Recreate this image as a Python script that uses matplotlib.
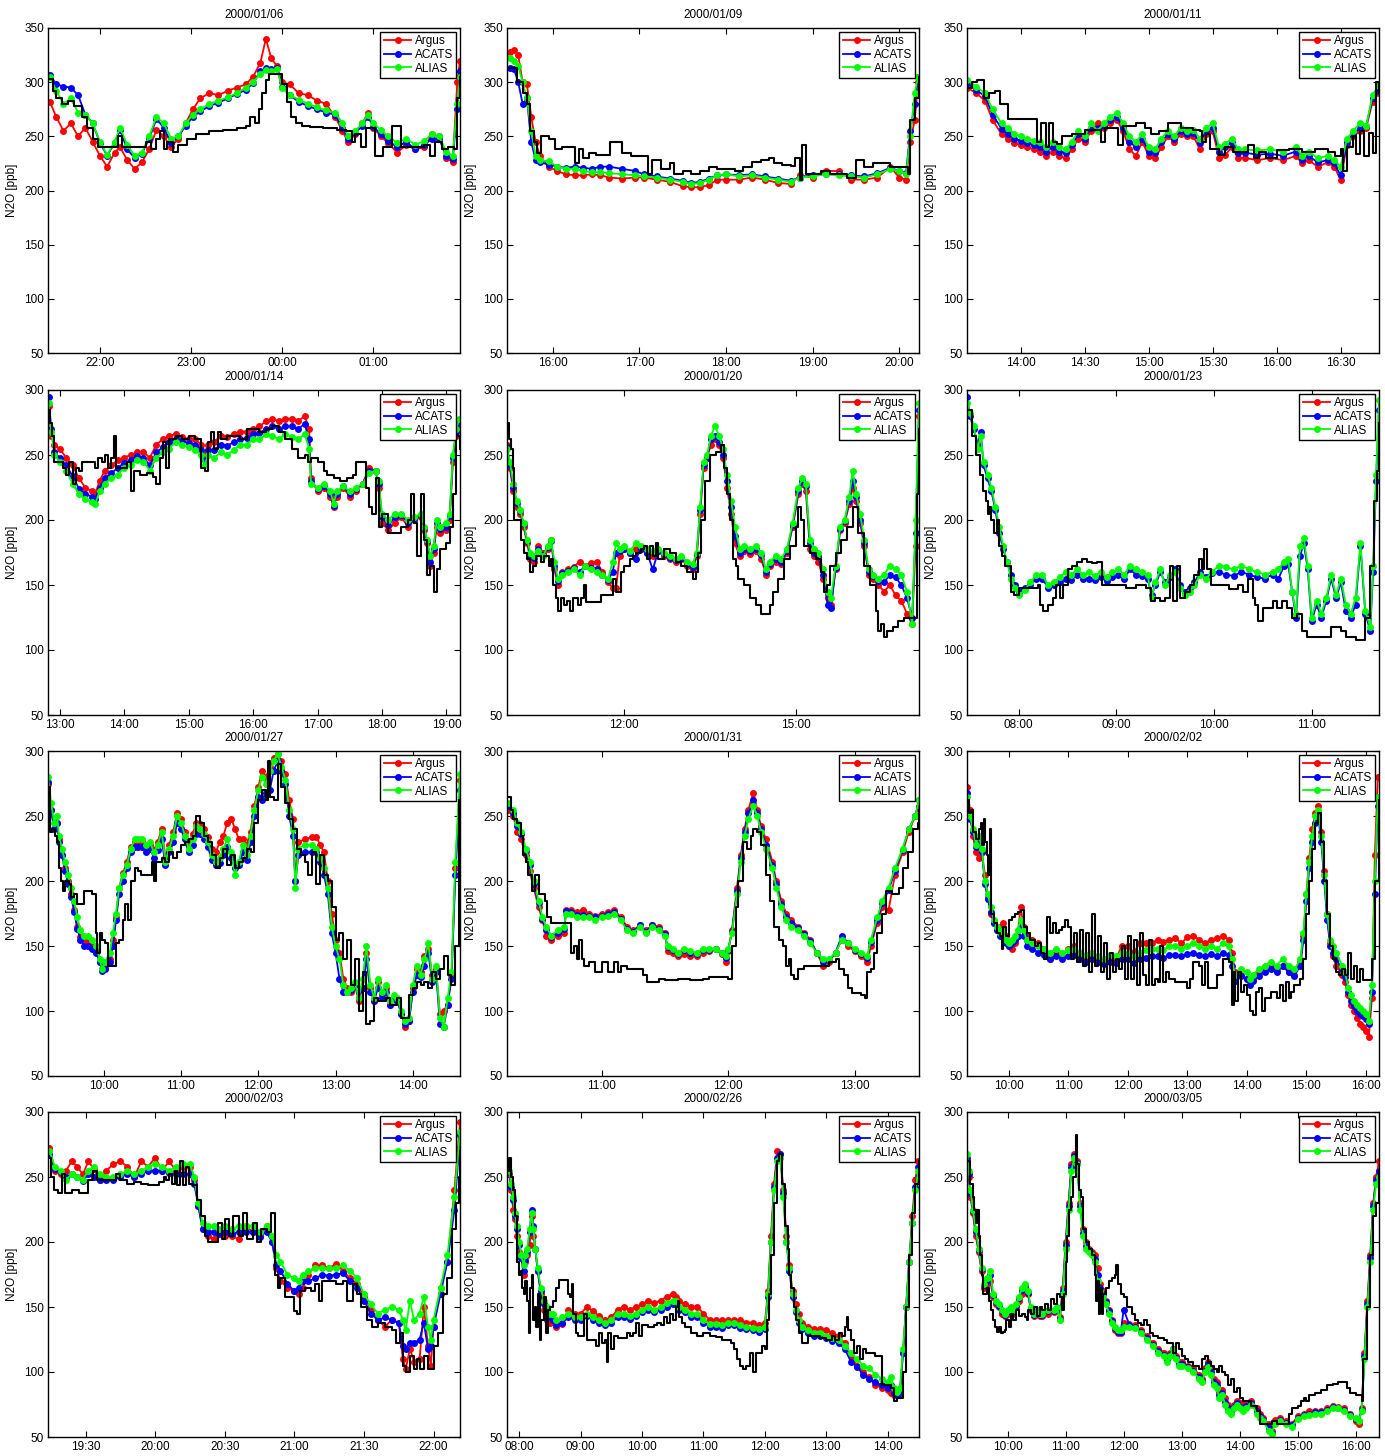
"""
N2O time series for twelve flights: Argus, ACATS and ALIAS plus the
unlabelled reference trace (black), one panel per flight day.
"""

import matplotlib
matplotlib.use("Agg")
import matplotlib.pyplot as plt
from matplotlib.ticker import FuncFormatter

# ---------------------------------------------------------------------------
# Data (time in decimal hours UT, values above 24 roll over to next day)
# ---------------------------------------------------------------------------

# 2000/01/06
T_0106 = [21.45, 21.52, 21.6, 21.68, 21.76, 21.84, 21.92, 22.0, 22.08, 22.16,
          22.22, 22.3, 22.38, 22.46, 22.54, 22.62, 22.7, 22.78, 22.86, 22.94,
          23.02, 23.1, 23.2, 23.3, 23.4, 23.5, 23.6, 23.68, 23.76, 23.82,
          23.88, 23.94, 24.0, 24.08, 24.18, 24.28, 24.38, 24.48, 24.58, 24.66,
          24.72, 24.8, 24.88, 24.94, 25.0, 25.08, 25.16, 25.26, 25.36, 25.46,
          25.56, 25.64, 25.72, 25.8, 25.87, 25.92, 25.95]
ARGUS_0106 = [282, 268, 255, 262, 250, 258, 245, 232, 222, 235,
              240, 228, 220, 226, 238, 256, 250, 240, 248, 262,
              275, 285, 290, 288, 292, 295, 298, 305, 318, 340,
              322, 315, 300, 298, 290, 288, 283, 280, 268, 255,
              245, 252, 262, 272, 258, 250, 244, 235, 242, 238,
              240, 252, 250, 230, 226, 300, 320]
ACATS_0106 = [307, 298, 296, 295, 288, 270, 262, 244, 232, 244,
              256, 238, 230, 234, 248, 266, 258, 244, 250, 260,
              268, 273, 278, 281, 285, 289, 293, 299, 310, 313,
              312, 313, 296, 288, 282, 278, 275, 272, 270, 258,
              248, 253, 260, 268, 259, 252, 246, 240, 245, 238,
              242, 248, 248, 232, 229, 275, 310]
ALIAS_0106 = [305, 292, 280, 285, 272, 270, 262, 245, 233, 245,
              258, 242, 232, 235, 250, 268, 262, 248, 250, 262,
              270, 275, 280, 283, 286, 290, 295, 300, 308, 311,
              310, 312, 295, 288, 284, 280, 277, 274, 272, 262,
              250, 255, 262, 270, 262, 256, 250, 244, 248, 242,
              246, 252, 250, 236, 232, 280, 305]
MODEL_T_0106 = [21.43, 21.48, 21.52, 21.58, 21.65, 21.72, 21.8, 21.86, 21.92, 21.98,
                22.1, 22.2, 22.24, 22.35, 22.5, 22.56, 22.62, 22.66, 22.7, 22.74,
                22.8, 22.86, 22.95, 23.05, 23.2, 23.35, 23.5, 23.6, 23.65, 23.7,
                23.74, 23.78, 23.82, 23.86, 23.94, 24.0, 24.05, 24.1, 24.15, 24.22,
                24.3, 24.45, 24.6, 24.7, 24.76, 24.8, 24.86, 24.92, 24.98, 25.02,
                25.1, 25.2, 25.3, 25.45, 25.55, 25.62, 25.68, 25.75, 25.82, 25.88,
                25.92, 25.95]
MODEL_0106 = [303, 292, 285, 280, 283, 278, 268, 258, 248, 240,
              240, 250, 240, 240, 245, 238, 248, 255, 238, 245,
              236, 242, 248, 252, 255, 256, 258, 260, 268, 262,
              275, 290, 302, 308, 308, 298, 282, 268, 262, 260,
              259, 258, 256, 255, 245, 252, 240, 258, 258, 232,
              240, 260, 240, 240, 242, 232, 245, 238, 240, 238,
              285, 305]
TICKS_0106 = [22, 23, 24, 25]

# 2000/01/09
T_0109 = [15.5, 15.55, 15.6, 15.65, 15.7, 15.75, 15.8, 15.85, 15.95, 16.05,
          16.15, 16.25, 16.35, 16.45, 16.55, 16.65, 16.8, 16.95, 17.05, 17.2,
          17.35, 17.5, 17.6, 17.7, 17.8, 17.9, 18.0, 18.15, 18.3, 18.45,
          18.6, 18.75, 18.85, 19.0, 19.15, 19.3, 19.45, 19.6, 19.75, 19.9,
          20.0, 20.08, 20.13, 20.18, 20.22]
ARGUS_0109 = [328, 330, 325, 300, 298, 268, 245, 232, 222, 218,
              215, 214, 214, 215, 214, 212, 211, 212, 212, 210,
              208, 204, 203, 203, 205, 210, 210, 210, 212, 210,
              207, 206, 214, 212, 218, 218, 210, 210, 212, 222,
              212, 210, 245, 265, 300]
ACATS_0109 = [313, 312, 300, 280, 285, 245, 228, 226, 224, 222,
              221, 222, 221, 220, 222, 222, 220, 218, 215, 213,
              211, 209, 207, 208, 211, 214, 215, 214, 215, 213,
              211, 209, 212, 214, 215, 215, 214, 213, 216, 221,
              218, 216, 255, 280, 305]
ALIAS_0109 = [322, 320, 315, 300, 285, 255, 232, 228, 227, 222,
              220, 220, 218, 217, 217, 216, 215, 214, 213, 212,
              210, 208, 206, 207, 210, 214, 215, 213, 214, 212,
              210, 208, 212, 213, 215, 214, 213, 212, 215, 220,
              218, 215, 250, 290, 305]
MODEL_T_0109 = [15.47, 15.58, 15.65, 15.7, 15.73, 15.78, 15.82, 15.86, 15.95, 16.03,
                16.1, 16.2, 16.25, 16.3, 16.35, 16.42, 16.5, 16.6, 16.66, 16.75,
                16.8, 16.9, 17.0, 17.1, 17.15, 17.25, 17.35, 17.4, 17.5, 17.6,
                17.7, 17.8, 17.9, 18.0, 18.1, 18.2, 18.3, 18.4, 18.5, 18.55,
                18.65, 18.75, 18.8, 18.85, 18.88, 18.92, 19.0, 19.1, 19.2, 19.3,
                19.4, 19.5, 19.55, 19.6, 19.7, 19.8, 19.9, 20.0, 20.07, 20.1,
                20.13, 20.18, 20.23]
MODEL_0109 = [313, 300, 290, 280, 255, 245, 235, 250, 248, 238,
              240, 240, 225, 238, 230, 235, 233, 233, 245, 245,
              235, 232, 232, 215, 228, 220, 225, 215, 218, 215,
              218, 222, 220, 220, 218, 222, 226, 228, 230, 225,
              224, 223, 230, 210, 242, 215, 215, 218, 215, 215,
              212, 228, 228, 222, 225, 225, 222, 222, 222, 215,
              265, 285, 305]
TICKS_0109 = [16, 17, 18, 19, 20]

# 2000/01/11
T_0111 = [13.58, 13.65, 13.72, 13.78, 13.85, 13.9, 13.95, 14.0, 14.05, 14.1,
          14.15, 14.2, 14.25, 14.3, 14.35, 14.4, 14.45, 14.5, 14.55, 14.6,
          14.65, 14.7, 14.75, 14.8, 14.85, 14.9, 14.95, 15.0, 15.05, 15.1,
          15.15, 15.2, 15.25, 15.3, 15.35, 15.4, 15.45, 15.5, 15.55, 15.6,
          15.65, 15.7, 15.75, 15.85, 15.95, 16.05, 16.15, 16.2, 16.25, 16.32,
          16.4, 16.45, 16.5, 16.55, 16.6, 16.65, 16.7, 16.75, 16.8]
ARGUS_0111 = [295, 290, 283, 265, 252, 248, 244, 242, 240, 238,
              236, 232, 236, 232, 230, 238, 248, 245, 255, 262,
              258, 262, 265, 255, 238, 232, 245, 232, 230, 240,
              250, 245, 252, 250, 250, 238, 252, 255, 230, 233,
              240, 230, 230, 228, 230, 228, 232, 225, 228, 222,
              226, 222, 210, 242, 250, 255, 258, 282, 290]
ACATS_0111 = [299, 293, 287, 270, 257, 252, 248, 246, 244, 242,
              240, 236, 240, 236, 235, 242, 252, 248, 258, 258,
              260, 265, 268, 258, 245, 240, 248, 236, 235, 245,
              252, 248, 255, 252, 253, 244, 255, 258, 236, 240,
              245, 235, 235, 233, 234, 232, 236, 228, 232, 226,
              228, 225, 214, 245, 252, 258, 260, 285, 292]
ALIAS_0111 = [302, 296, 290, 275, 262, 258, 252, 250, 248, 246,
              245, 240, 245, 240, 238, 245, 255, 250, 262, 255,
              262, 268, 272, 262, 250, 245, 252, 240, 238, 248,
              255, 250, 258, 255, 256, 248, 258, 262, 240, 243,
              248, 238, 238, 237, 238, 236, 240, 232, 236, 230,
              232, 228, 222, 248, 255, 262, 260, 288, 298]
MODEL_T_0111 = [13.58, 13.62, 13.66, 13.71, 13.75, 13.8, 13.84, 13.9, 14.1, 14.13,
                14.16, 14.2, 14.22, 14.25, 14.28, 14.32, 14.4, 14.5, 14.6, 14.63,
                14.66, 14.72, 14.76, 14.8, 14.9, 14.97, 15.02, 15.08, 15.15, 15.25,
                15.35, 15.4, 15.42, 15.45, 15.48, 15.55, 15.6, 15.66, 15.75, 15.78,
                15.82, 15.86, 15.92, 16.0, 16.1, 16.2, 16.3, 16.4, 16.46, 16.5,
                16.52, 16.55, 16.6, 16.62, 16.65, 16.68, 16.72, 16.75, 16.78, 16.8]
MODEL_0111 = [295, 300, 302, 285, 290, 292, 280, 266, 266, 245,
              262, 240, 262, 245, 243, 250, 252, 256, 256, 245,
              258, 258, 242, 260, 262, 258, 252, 255, 262, 258,
              256, 255, 245, 252, 238, 233, 240, 236, 236, 242,
              230, 236, 230, 237, 238, 236, 238, 236, 232, 238,
              218, 240, 250, 234, 255, 232, 253, 235, 300, 290]
TICKS_0111 = [14, 14.5, 15, 15.5, 16, 16.5]

# 2000/01/14
T_0114 = [12.83, 12.87, 12.92, 13.0, 13.1, 13.2, 13.3, 13.4, 13.5, 13.55,
          13.62, 13.7, 13.8, 13.9, 14.0, 14.1, 14.2, 14.3, 14.4, 14.5,
          14.6, 14.7, 14.8, 14.9, 15.0, 15.1, 15.2, 15.25, 15.3, 15.4,
          15.5, 15.6, 15.7, 15.8, 15.9, 16.0, 16.1, 16.2, 16.3, 16.4,
          16.5, 16.6, 16.7, 16.8, 16.87, 16.9, 17.0, 17.1, 17.2, 17.25,
          17.3, 17.4, 17.5, 17.6, 17.7, 17.8, 17.9, 17.95, 18.0, 18.1,
          18.2, 18.3, 18.4, 18.5, 18.6, 18.65, 18.7, 18.75, 18.8, 18.85,
          18.9, 19.0, 19.05, 19.1, 19.15, 19.2]
ARGUS_0114 = [288, 265, 258, 255, 248, 242, 232, 225, 222, 220,
              230, 238, 242, 246, 248, 250, 252, 252, 248, 258,
              262, 265, 266, 264, 262, 262, 258, 250, 258, 260,
              265, 264, 266, 268, 268, 270, 272, 276, 278, 276,
              278, 278, 276, 280, 270, 232, 222, 225, 218, 210,
              218, 225, 218, 222, 228, 240, 238, 225, 198, 192,
              198, 202, 195, 200, 202, 192, 182, 165, 175, 195,
              190, 192, 200, 245, 265, 270]
ACATS_0114 = [295, 270, 252, 248, 242, 234, 224, 220, 218, 216,
              225, 232, 236, 240, 244, 246, 249, 248, 242, 252,
              256, 260, 262, 261, 259, 258, 254, 246, 254, 254,
              258, 257, 260, 262, 263, 266, 267, 270, 272, 270,
              272, 272, 270, 274, 262, 230, 224, 226, 220, 211,
              220, 226, 220, 224, 228, 238, 238, 228, 202, 196,
              202, 204, 198, 201, 204, 194, 184, 168, 178, 198,
              193, 195, 203, 248, 268, 275]
ALIAS_0114 = [290, 268, 250, 245, 238, 228, 220, 216, 214, 212,
              222, 228, 232, 235, 240, 242, 246, 245, 238, 248,
              252, 255, 260, 258, 256, 254, 250, 242, 250, 248,
              252, 250, 254, 258, 258, 262, 262, 266, 265, 262,
              266, 264, 262, 266, 255, 228, 225, 228, 222, 212,
              222, 226, 222, 225, 228, 236, 238, 230, 205, 200,
              205, 205, 200, 202, 205, 195, 185, 172, 180, 200,
              195, 198, 205, 250, 270, 278]
MODEL_T_0114 = [12.82, 12.85, 12.88, 12.92, 13.0, 13.05, 13.1, 13.15, 13.2, 13.25,
                13.3, 13.35, 13.45, 13.55, 13.6, 13.65, 13.7, 13.75, 13.8, 13.85,
                13.88, 13.95, 14.05, 14.1, 14.15, 14.25, 14.35, 14.45, 14.5, 14.55,
                14.6, 14.65, 14.7, 14.8, 14.9, 15.0, 15.1, 15.2, 15.25, 15.3,
                15.35, 15.4, 15.45, 15.5, 15.6, 15.7, 15.8, 15.9, 16.0, 16.1,
                16.2, 16.3, 16.4, 16.5, 16.6, 16.7, 16.8, 16.85, 16.9, 17.0,
                17.1, 17.15, 17.25, 17.35, 17.45, 17.55, 17.6, 17.7, 17.75, 17.8,
                17.85, 17.9, 17.95, 18.0, 18.1, 18.2, 18.3, 18.4, 18.45, 18.5,
                18.55, 18.6, 18.65, 18.7, 18.75, 18.8, 18.85, 18.9, 19.0, 19.05,
                19.1, 19.15, 19.21]
MODEL_0114 = [285, 275, 265, 245, 245, 240, 235, 245, 228, 240,
              238, 245, 245, 240, 248, 245, 250, 240, 248, 265,
              240, 240, 245, 222, 238, 235, 236, 233, 228, 248,
              260, 240, 262, 265, 262, 265, 262, 240, 238, 260,
              268, 255, 268, 262, 265, 265, 262, 270, 270, 268,
              270, 272, 268, 262, 255, 248, 250, 245, 248, 245,
              238, 235, 232, 230, 232, 235, 245, 245, 225, 210,
              205, 232, 195, 205, 190, 190, 195, 200, 220, 198,
              172, 220, 185, 158, 165, 145, 162, 178, 182, 195,
              220, 265, 255]
TICKS_0114 = [13, 14, 15, 16, 17, 18, 19]

# 2000/01/20
T_0120 = [9.95, 10.0, 10.06, 10.12, 10.18, 10.24, 10.3, 10.36, 10.42, 10.5,
          10.58, 10.66, 10.72, 10.78, 10.84, 10.92, 11.02, 11.12, 11.22, 11.32,
          11.42, 11.52, 11.62, 11.72, 11.8, 11.86, 11.92, 12.0, 12.1, 12.2,
          12.3, 12.4, 12.5, 12.6, 12.7, 12.8, 12.9, 13.0, 13.1, 13.2,
          13.27, 13.33, 13.39, 13.45, 13.52, 13.59, 13.66, 13.73, 13.8, 13.87,
          13.94, 14.02, 14.1, 14.2, 14.3, 14.4, 14.48, 14.55, 14.65, 14.75,
          14.85, 14.95, 15.05, 15.12, 15.18, 15.25, 15.32, 15.4, 15.48, 15.56,
          15.62, 15.7, 15.78, 15.86, 15.94, 16.0, 16.06, 16.13, 16.2, 16.28,
          16.36, 16.45, 16.55, 16.65, 16.75, 16.85, 16.95, 17.04, 17.1, 17.16]
ARGUS_0120 = [258, 240, 222, 210, 205, 195, 182, 170, 168, 180,
              175, 178, 185, 162, 150, 160, 162, 164, 168, 165,
              167, 168, 160, 152, 148, 148, 172, 178, 175, 178,
              178, 175, 172, 176, 172, 170, 168, 170, 165, 162,
              172, 205, 240, 248, 258, 262, 258, 248, 225, 205,
              182, 172, 176, 174, 176, 170, 158, 165, 168, 166,
              175, 195, 220, 228, 222, 178, 172, 168, 155, 140,
              135, 162, 192, 198, 212, 225, 215, 198, 180, 158,
              155, 150, 145, 150, 142, 138, 128, 120, 180, 280]
ACATS_0120 = [256, 242, 225, 213, 207, 197, 184, 173, 171, 178,
              173, 179, 184, 165, 153, 159, 161, 163, 160, 165,
              163, 162, 158, 154, 160, 175, 176, 178, 175, 170,
              178, 175, 162, 176, 174, 171, 169, 171, 166, 164,
              174, 208, 242, 248, 262, 265, 260, 250, 230, 210,
              188, 175, 178, 176, 178, 173, 160, 166, 170, 168,
              176, 196, 222, 230, 226, 182, 175, 172, 158, 135,
              132, 163, 193, 199, 215, 230, 218, 200, 182, 160,
              157, 153, 152, 158, 156, 150, 140, 125, 190, 285]
ALIAS_0120 = [255, 245, 228, 215, 208, 198, 185, 175, 172, 176,
              172, 180, 185, 168, 155, 158, 160, 162, 158, 165,
              162, 160, 158, 155, 168, 182, 178, 180, 176, 182,
              180, 178, 176, 178, 175, 172, 170, 172, 168, 166,
              175, 210, 245, 250, 265, 272, 265, 255, 235, 215,
              195, 178, 180, 178, 180, 175, 162, 168, 172, 170,
              178, 198, 225, 232, 228, 185, 178, 175, 162, 145,
              140, 165, 195, 200, 218, 238, 220, 205, 185, 162,
              158, 155, 158, 165, 162, 158, 145, 120, 200, 290]
MODEL_T_0120 = [9.95, 9.98, 10.02, 10.05, 10.08, 10.14, 10.2, 10.25, 10.3, 10.35,
                10.4, 10.45, 10.55, 10.6, 10.68, 10.72, 10.76, 10.8, 10.85, 10.9,
                10.95, 11.0, 11.05, 11.1, 11.2, 11.25, 11.3, 11.33, 11.45, 11.6,
                11.75, 11.8, 11.85, 11.95, 12.0, 12.1, 12.15, 12.2, 12.3, 12.35,
                12.4, 12.45, 12.5, 12.55, 12.6, 12.7, 12.8, 12.9, 13.0, 13.1,
                13.2, 13.25, 13.3, 13.35, 13.42, 13.5, 13.6, 13.7, 13.75, 13.8,
                13.85, 13.9, 13.95, 14.0, 14.1, 14.2, 14.3, 14.4, 14.5, 14.55,
                14.6, 14.7, 14.8, 14.9, 15.0, 15.05, 15.1, 15.15, 15.25, 15.35,
                15.45, 15.5, 15.55, 15.6, 15.7, 15.8, 15.9, 16.0, 16.1, 16.2,
                16.3, 16.4, 16.45, 16.5, 16.55, 16.6, 16.7, 16.8, 16.9, 17.08,
                17.12, 17.16]
MODEL_0120 = [275, 262, 255, 240, 200, 200, 185, 175, 170, 160,
              165, 172, 168, 172, 165, 170, 150, 140, 130, 140,
              135, 138, 130, 140, 135, 140, 150, 137, 137, 142,
              142, 155, 145, 160, 165, 170, 172, 175, 178, 180,
              170, 180, 172, 182, 170, 178, 175, 168, 165, 160,
              155, 160, 175, 200, 230, 250, 252, 258, 240, 220,
              200, 170, 165, 155, 150, 140, 135, 128, 128, 135,
              145, 155, 170, 180, 195, 210, 200, 180, 175, 170,
              160, 145, 150, 165, 175, 185, 195, 210, 190, 165,
              150, 130, 115, 120, 110, 115, 118, 122, 125, 125,
              220, 270]
TICKS_0120 = [12, 15]

# 2000/01/23 (no Argus data on this flight)
T_0123 = [7.47, 7.5, 7.54, 7.58, 7.61, 7.64, 7.68, 7.72, 7.76, 7.8,
          7.84, 7.88, 7.92, 7.96, 8.0, 8.06, 8.12, 8.18, 8.24, 8.3,
          8.36, 8.42, 8.48, 8.54, 8.6, 8.66, 8.72, 8.78, 8.84, 8.9,
          8.96, 9.02, 9.08, 9.14, 9.2, 9.26, 9.32, 9.36, 9.4, 9.45,
          9.5, 9.55, 9.6, 9.65, 9.7, 9.75, 9.8, 9.86, 9.92, 9.98,
          10.05, 10.12, 10.2, 10.28, 10.36, 10.44, 10.52, 10.6, 10.66, 10.72,
          10.76, 10.8, 10.84, 10.88, 10.92, 10.96, 11.0, 11.05, 11.1, 11.15,
          11.2, 11.25, 11.3, 11.35, 11.4, 11.45, 11.5, 11.55, 11.6, 11.63,
          11.66, 11.69]
ARGUS_0123 = []
ACATS_0123 = [295, 280, 270, 258, 268, 242, 232, 222, 208, 190,
              178, 168, 158, 150, 145, 148, 150, 155, 155, 148,
              150, 152, 155, 154, 158, 155, 155, 154, 156, 153,
              156, 158, 155, 162, 158, 157, 155, 142, 150, 160,
              152, 156, 162, 150, 145, 148, 152, 160, 156, 159,
              160, 158, 157, 160, 158, 156, 155, 158, 155, 165,
              166, 145, 125, 172, 182, 162, 122, 135, 125, 138,
              155, 140, 152, 130, 125, 135, 180, 128, 115, 160,
              230, 285]
ALIAS_0123 = [290, 282, 272, 255, 265, 245, 235, 225, 210, 195,
              180, 168, 155, 148, 142, 146, 152, 158, 158, 150,
              152, 156, 160, 158, 162, 158, 160, 157, 160, 156,
              160, 162, 158, 165, 162, 160, 158, 140, 152, 162,
              150, 158, 160, 148, 142, 145, 150, 158, 155, 160,
              165, 164, 162, 165, 162, 160, 158, 160, 162, 168,
              170, 145, 128, 180, 186, 165, 125, 138, 128, 140,
              158, 142, 155, 135, 128, 140, 182, 130, 118, 165,
              235, 292]
MODEL_T_0123 = [7.47, 7.52, 7.56, 7.6, 7.63, 7.66, 7.68, 7.7, 7.72, 7.75,
                7.78, 7.8, 7.83, 7.86, 7.9, 7.92, 7.95, 8.0, 8.1, 8.15,
                8.2, 8.22, 8.25, 8.3, 8.35, 8.38, 8.42, 8.45, 8.5, 8.55,
                8.6, 8.65, 8.7, 8.75, 8.8, 8.85, 8.9, 9.0, 9.1, 9.2,
                9.3, 9.35, 9.4, 9.45, 9.5, 9.55, 9.58, 9.62, 9.65, 9.7,
                9.75, 9.8, 9.85, 9.88, 9.9, 9.93, 9.97, 10.05, 10.15, 10.25,
                10.3, 10.35, 10.4, 10.42, 10.45, 10.5, 10.55, 10.6, 10.65, 10.7,
                10.75, 10.8, 10.85, 10.9, 10.95, 11.05, 11.15, 11.2, 11.3, 11.35,
                11.45, 11.5, 11.55, 11.6, 11.64, 11.67, 11.69]
MODEL_0123 = [285, 265, 250, 235, 222, 215, 205, 210, 200, 190,
              200, 180, 172, 165, 165, 145, 142, 148, 148, 148,
              150, 135, 130, 135, 140, 150, 140, 150, 162, 165,
              168, 170, 168, 167, 168, 150, 150, 150, 148, 150,
              148, 138, 140, 138, 140, 165, 138, 165, 140, 145,
              150, 158, 170, 162, 178, 162, 150, 150, 147, 150,
              145, 155, 140, 135, 122, 132, 132, 138, 132, 138,
              132, 125, 128, 115, 110, 110, 110, 118, 115, 110,
              108, 108, 125, 165, 215, 238, 275]
TICKS_0123 = [8, 9, 10, 11]

# 2000/01/27
T_0127 = [9.28, 9.32, 9.36, 9.4, 9.42, 9.46, 9.5, 9.54, 9.58, 9.62,
          9.66, 9.7, 9.75, 9.8, 9.85, 9.9, 9.95, 9.98, 10.02, 10.08,
          10.12, 10.16, 10.2, 10.25, 10.3, 10.35, 10.4, 10.45, 10.5, 10.55,
          10.6, 10.65, 10.7, 10.75, 10.8, 10.85, 10.9, 10.95, 11.0, 11.05,
          11.1, 11.15, 11.2, 11.25, 11.3, 11.35, 11.4, 11.45, 11.5, 11.55,
          11.6, 11.65, 11.7, 11.75, 11.8, 11.85, 11.9, 11.95, 12.0, 12.05,
          12.1, 12.15, 12.2, 12.25, 12.3, 12.35, 12.4, 12.45, 12.48, 12.52,
          12.6, 12.7, 12.75, 12.8, 12.85, 12.9, 12.95, 13.0, 13.05, 13.1,
          13.15, 13.2, 13.25, 13.3, 13.35, 13.4, 13.45, 13.5, 13.55, 13.6,
          13.65, 13.7, 13.75, 13.8, 13.85, 13.9, 13.95, 14.0, 14.05, 14.1,
          14.15, 14.2, 14.25, 14.3, 14.35, 14.4, 14.45, 14.5, 14.55, 14.61]
ARGUS_0127 = [275, 255, 240, 245, 232, 220, 210, 200, 190, 178,
              165, 157, 155, 154, 150, 148, 138, 132, 133, 140,
              155, 172, 195, 206, 215, 226, 230, 230, 230, 226,
              228, 224, 230, 240, 218, 228, 238, 252, 248, 238,
              228, 236, 245, 244, 240, 234, 225, 222, 230, 235,
              245, 248, 240, 232, 232, 228, 238, 258, 272, 285,
              280, 288, 295, 298, 292, 282, 262, 248, 200, 230,
              232, 234, 234, 228, 222, 200, 175, 155, 145, 125,
              118, 115, 120, 108, 118, 145, 118, 108, 122, 112,
              118, 105, 110, 108, 98, 88, 92, 118, 132, 130,
              142, 148, 128, 132, 98, 100, 105, 128, 210, 278]
ACATS_0127 = [276, 255, 240, 245, 230, 220, 208, 198, 188, 176,
              163, 155, 150, 150, 148, 145, 138, 131, 132, 138,
              150, 170, 190, 200, 210, 222, 226, 226, 226, 222,
              225, 218, 224, 232, 212, 222, 230, 245, 240, 232,
              222, 228, 236, 236, 232, 226, 216, 212, 214, 220,
              226, 218, 210, 212, 222, 216, 230, 250, 265, 262,
              268, 270, 285, 292, 285, 275, 250, 235, 200, 220,
              222, 222, 222, 215, 205, 190, 160, 145, 125, 115,
              115, 116, 120, 110, 118, 140, 115, 108, 118, 110,
              115, 105, 110, 108, 98, 90, 92, 115, 128, 126,
              135, 145, 122, 130, 90, 88, 105, 125, 205, 270]
ALIAS_0127 = [280, 260, 245, 250, 235, 225, 215, 205, 195, 185,
              172, 162, 158, 158, 155, 150, 140, 132, 138, 145,
              160, 175, 195, 205, 212, 225, 232, 232, 232, 228,
              230, 222, 228, 238, 215, 225, 235, 250, 245, 235,
              225, 232, 242, 240, 236, 230, 220, 215, 218, 225,
              232, 222, 205, 215, 228, 220, 235, 255, 270, 280,
              275, 285, 292, 298, 288, 278, 255, 240, 195, 225,
              228, 228, 225, 218, 210, 195, 165, 150, 140, 120,
              115, 118, 122, 110, 125, 150, 120, 110, 125, 115,
              120, 108, 112, 110, 100, 92, 95, 120, 135, 128,
              140, 152, 125, 135, 95, 88, 110, 130, 215, 282]
MODEL_T_0127 = [9.28, 9.3, 9.33, 9.37, 9.4, 9.42, 9.45, 9.47, 9.5, 9.55,
                9.58, 9.62, 9.65, 9.72, 9.75, 9.85, 9.9, 9.92, 9.95, 9.98,
                10.02, 10.05, 10.12, 10.16, 10.2, 10.25, 10.28, 10.32, 10.35, 10.4,
                10.45, 10.48, 10.6, 10.62, 10.65, 10.68, 10.75, 10.8, 10.85, 10.9,
                10.95, 11.0, 11.05, 11.1, 11.15, 11.2, 11.25, 11.3, 11.35, 11.4,
                11.45, 11.5, 11.55, 11.6, 11.65, 11.7, 11.75, 11.8, 11.85, 11.9,
                11.95, 12.0, 12.05, 12.1, 12.12, 12.15, 12.2, 12.25, 12.3, 12.35,
                12.4, 12.45, 12.5, 12.55, 12.6, 12.65, 12.7, 12.75, 12.8, 12.85,
                12.9, 12.95, 13.0, 13.05, 13.1, 13.15, 13.2, 13.25, 13.3, 13.35,
                13.4, 13.45, 13.5, 13.55, 13.6, 13.65, 13.7, 13.8, 13.85, 13.9,
                13.95, 14.0, 14.05, 14.1, 14.15, 14.2, 14.25, 14.3, 14.35, 14.4,
                14.45, 14.5, 14.55, 14.6]
MODEL_0127 = [272, 238, 240, 235, 230, 210, 200, 192, 200, 198,
              188, 190, 182, 182, 192, 190, 160, 145, 160, 155,
              152, 135, 135, 152, 155, 170, 182, 170, 200, 210,
              208, 205, 205, 215, 200, 215, 218, 215, 222, 218,
              222, 228, 230, 232, 235, 250, 245, 235, 230, 220,
              210, 218, 225, 212, 220, 210, 215, 218, 225, 222,
              245, 262, 270, 262, 292, 265, 262, 290, 272, 260,
              248, 240, 225, 220, 215, 205, 222, 198, 220, 205,
              200, 180, 155, 160, 140, 155, 120, 140, 100, 130,
              90, 92, 110, 108, 108, 110, 105, 110, 95, 95,
              112, 118, 122, 120, 122, 118, 130, 125, 132, 142,
              128, 120, 150, 262]
TICKS_0127 = [10, 11, 12, 13, 14]

# 2000/01/31
T_0131 = [10.26, 10.3, 10.33, 10.36, 10.4, 10.43, 10.46, 10.5, 10.53, 10.56,
          10.6, 10.65, 10.7, 10.72, 10.76, 10.8, 10.85, 10.9, 10.95, 11.0,
          11.05, 11.1, 11.15, 11.2, 11.25, 11.3, 11.35, 11.4, 11.45, 11.5,
          11.52, 11.56, 11.6, 11.65, 11.7, 11.75, 11.8, 11.85, 11.9, 11.95,
          11.98, 12.0, 12.03, 12.07, 12.1, 12.13, 12.16, 12.2, 12.23, 12.26,
          12.3, 12.35, 12.38, 12.42, 12.46, 12.5, 12.55, 12.6, 12.65, 12.7,
          12.75, 12.8, 12.85, 12.9, 12.95, 13.0, 13.05, 13.1, 13.13, 13.18,
          13.22, 13.27, 13.32, 13.38, 13.43, 13.48, 13.51]
ARGUS_0131 = [255, 250, 238, 232, 220, 208, 195, 180, 170, 158,
              155, 158, 160, 178, 178, 176, 178, 175, 173, 175,
              176, 178, 172, 165, 162, 166, 162, 166, 165, 160,
              146, 145, 142, 144, 142, 142, 145, 146, 148, 144,
              138, 146, 162, 195, 220, 240, 255, 268, 255, 242,
              232, 215, 200, 185, 175, 170, 165, 160, 155, 145,
              135, 138, 145, 155, 150, 146, 142, 138, 150, 168,
              180, 178, 205, 222, 238, 250, 258]
ACATS_0131 = [258, 252, 242, 236, 223, 212, 198, 183, 171, 162,
              157, 160, 163, 177, 176, 174, 174, 173, 172, 173,
              175, 176, 171, 163, 161, 166, 161, 166, 163, 159,
              149, 147, 144, 147, 145, 144, 147, 147, 148, 145,
              141, 147, 161, 192, 218, 238, 252, 262, 252, 240,
              228, 212, 198, 182, 172, 168, 164, 159, 154, 145,
              138, 139, 145, 158, 152, 147, 144, 141, 153, 170,
              183, 193, 208, 224, 240, 250, 262]
ALIAS_0131 = [260, 255, 245, 238, 225, 215, 200, 185, 172, 165,
              158, 162, 165, 175, 175, 172, 172, 172, 170, 172,
              173, 175, 170, 162, 160, 165, 160, 165, 162, 158,
              150, 148, 145, 148, 146, 145, 148, 148, 148, 145,
              142, 148, 160, 190, 215, 235, 248, 258, 250, 238,
              225, 210, 195, 180, 170, 165, 162, 158, 152, 145,
              140, 140, 145, 155, 152, 148, 145, 142, 155, 172,
              185, 195, 210, 225, 240, 250, 262]
MODEL_T_0131 = [10.25, 10.28, 10.3, 10.33, 10.36, 10.38, 10.4, 10.42, 10.45, 10.47,
                10.5, 10.55, 10.57, 10.6, 10.65, 10.7, 10.74, 10.76, 10.78, 10.8,
                10.82, 10.84, 10.86, 10.9, 10.95, 11.0, 11.05, 11.1, 11.13, 11.15,
                11.2, 11.3, 11.33, 11.36, 11.4, 11.45, 11.5, 11.6, 11.7, 11.8,
                11.85, 11.9, 11.95, 12.0, 12.03, 12.06, 12.08, 12.12, 12.15, 12.18,
                12.2, 12.23, 12.26, 12.3, 12.33, 12.36, 12.4, 12.43, 12.46, 12.48,
                12.5, 12.52, 12.55, 12.6, 12.7, 12.78, 12.8, 12.85, 12.88, 12.92,
                12.95, 12.98, 13.05, 13.08, 13.1, 13.13, 13.15, 13.18, 13.22, 13.25,
                13.3, 13.35, 13.38, 13.42, 13.46, 13.5, 13.51]
MODEL_0131 = [265, 255, 248, 245, 235, 220, 215, 205, 192, 205,
              190, 185, 172, 168, 168, 168, 168, 145, 150, 140,
              155, 140, 135, 138, 130, 138, 130, 138, 130, 135,
              132, 132, 128, 122, 122, 125, 124, 125, 124, 125,
              126, 126, 126, 125, 150, 180, 200, 230, 225, 235,
              240, 238, 228, 205, 185, 165, 155, 150, 135, 140,
              128, 125, 132, 135, 135, 135, 138, 140, 132, 128,
              118, 114, 112, 110, 130, 132, 145, 160, 175, 192,
              190, 195, 210, 222, 240, 245, 255]
TICKS_0131 = [11, 12, 13]

# 2000/02/02
T_0202 = [9.3, 9.35, 9.4, 9.45, 9.5, 9.55, 9.6, 9.65, 9.7, 9.75,
          9.8, 9.85, 9.9, 9.95, 10.0, 10.05, 10.1, 10.15, 10.2, 10.25,
          10.3, 10.4, 10.5, 10.6, 10.7, 10.8, 10.9, 11.0, 11.1, 11.2,
          11.3, 11.4, 11.5, 11.6, 11.7, 11.8, 11.9, 12.0, 12.1, 12.2,
          12.3, 12.4, 12.5, 12.6, 12.7, 12.8, 12.9, 13.0, 13.1, 13.2,
          13.3, 13.4, 13.5, 13.6, 13.7, 13.75, 13.8, 13.9, 14.0, 14.05,
          14.1, 14.2, 14.3, 14.4, 14.5, 14.6, 14.7, 14.8, 14.9, 14.95,
          15.0, 15.05, 15.1, 15.15, 15.2, 15.25, 15.3, 15.35, 15.4, 15.45,
          15.5, 15.6, 15.65, 15.7, 15.75, 15.8, 15.85, 15.9, 15.95, 16.0,
          16.05, 16.1, 16.15, 16.2]
ARGUS_0202 = [272, 255, 235, 222, 218, 222, 205, 188, 175, 168,
              162, 165, 168, 158, 150, 148, 152, 158, 180, 165,
              158, 155, 152, 148, 140, 145, 142, 148, 150, 142,
              140, 142, 140, 138, 142, 140, 150, 150, 145, 152,
              152, 152, 155, 153, 155, 156, 152, 157, 158, 155,
              152, 155, 156, 158, 155, 145, 130, 128, 125, 122,
              125, 130, 132, 135, 132, 135, 130, 128, 138, 158,
              190, 218, 240, 252, 258, 238, 208, 175, 152, 142,
              135, 128, 122, 112, 105, 100, 95, 90, 88, 85,
              80, 110, 220, 280]
ACATS_0202 = [268, 248, 238, 226, 230, 222, 198, 186, 176, 168,
              162, 158, 160, 152, 150, 152, 155, 158, 165, 158,
              150, 148, 145, 143, 140, 142, 140, 142, 143, 140,
              138, 140, 138, 136, 138, 137, 140, 140, 137, 140,
              141, 142, 142, 141, 143, 143, 142, 144, 145, 143,
              142, 144, 142, 145, 143, 135, 123, 127, 125, 120,
              123, 127, 130, 132, 130, 135, 130, 127, 135, 155,
              185, 210, 230, 245, 250, 230, 200, 170, 150, 145,
              140, 132, 126, 115, 108, 104, 100, 98, 96, 94,
              90, 115, 190, 258]
ALIAS_0202 = [265, 250, 240, 228, 235, 225, 200, 190, 180, 170,
              165, 160, 162, 155, 152, 155, 158, 162, 170, 162,
              155, 152, 150, 148, 145, 148, 145, 147, 148, 145,
              143, 145, 142, 140, 143, 142, 145, 145, 142, 145,
              147, 148, 148, 147, 150, 150, 148, 150, 152, 150,
              148, 150, 148, 152, 150, 140, 128, 132, 130, 125,
              128, 132, 135, 138, 135, 140, 135, 132, 140, 160,
              190, 215, 235, 250, 255, 235, 205, 175, 155, 150,
              145, 135, 130, 118, 112, 108, 105, 102, 100, 98,
              92, 120, 200, 265]
MODEL_T_0202 = [9.3, 9.33, 9.36, 9.4, 9.45, 9.5, 9.53, 9.56, 9.58, 9.6,
                9.63, 9.66, 9.68, 9.7, 9.75, 9.8, 9.85, 9.88, 9.9, 9.95,
                10.0, 10.05, 10.1, 10.15, 10.2, 10.25, 10.3, 10.35, 10.4, 10.45,
                10.5, 10.55, 10.6, 10.65, 10.7, 10.75, 10.8, 10.85, 10.9, 10.95,
                11.0, 11.05, 11.1, 11.15, 11.2, 11.25, 11.3, 11.35, 11.4, 11.45,
                11.5, 11.55, 11.6, 11.65, 11.7, 11.75, 11.8, 11.85, 11.9, 11.95,
                12.0, 12.05, 12.1, 12.15, 12.2, 12.25, 12.3, 12.35, 12.4, 12.45,
                12.5, 12.55, 12.6, 12.65, 12.7, 12.8, 12.9, 13.0, 13.05, 13.1,
                13.2, 13.25, 13.3, 13.35, 13.45, 13.5, 13.6, 13.7, 13.75, 13.78,
                13.8, 13.85, 13.9, 13.95, 14.0, 14.05, 14.1, 14.15, 14.2, 14.25,
                14.3, 14.4, 14.5, 14.55, 14.6, 14.65, 14.7, 14.75, 14.8, 14.9,
                14.95, 15.0, 15.05, 15.1, 15.15, 15.2, 15.25, 15.3, 15.35, 15.4,
                15.45, 15.5, 15.55, 15.6, 15.65, 15.7, 15.75, 15.8, 15.85, 15.9,
                15.95, 16.0, 16.05, 16.1, 16.15, 16.22]
MODEL_0202 = [262, 252, 255, 238, 232, 240, 245, 228, 248, 230,
              220, 205, 240, 175, 168, 160, 158, 148, 165, 158,
              170, 172, 175, 176, 178, 165, 160, 155, 155, 150,
              152, 145, 140, 172, 160, 168, 160, 162, 165, 170,
              165, 140, 160, 138, 162, 135, 160, 130, 175, 135,
              158, 130, 152, 125, 145, 130, 140, 132, 150, 125,
              158, 125, 155, 120, 160, 128, 120, 155, 120, 125,
              122, 150, 122, 130, 125, 122, 122, 118, 125, 138,
              135, 120, 138, 118, 118, 128, 140, 138, 105, 130,
              108, 130, 115, 120, 112, 100, 97, 115, 118, 100,
              110, 115, 110, 120, 108, 122, 110, 115, 120, 125,
              140, 175, 200, 225, 245, 252, 230, 200, 175, 150,
              140, 130, 128, 132, 128, 145, 125, 135, 122, 132,
              124, 124, 124, 140, 200, 262]
TICKS_0202 = [10, 11, 12, 13, 14, 15, 16]

# 2000/02/03
T_0203 = [19.24, 19.28, 19.32, 19.36, 19.4, 19.44, 19.48, 19.52, 19.56, 19.6,
          19.65, 19.7, 19.75, 19.8, 19.85, 19.9, 19.95, 20.0, 20.05, 20.1,
          20.15, 20.2, 20.25, 20.28, 20.31, 20.34, 20.38, 20.42, 20.46, 20.5,
          20.55, 20.6, 20.65, 20.7, 20.75, 20.8, 20.84, 20.87, 20.9, 20.95,
          21.0, 21.03, 21.06, 21.1, 21.15, 21.2, 21.25, 21.3, 21.35, 21.4,
          21.45, 21.5, 21.55, 21.6, 21.65, 21.7, 21.75, 21.78, 21.8, 21.83,
          21.86, 21.9, 21.93, 21.96, 21.98, 22.0, 22.05, 22.1, 22.15, 22.19]
ARGUS_0203 = [272, 255, 252, 255, 262, 258, 252, 262, 256, 248,
              255, 260, 262, 258, 250, 262, 258, 265, 255, 262,
              255, 258, 258, 248, 228, 210, 205, 202, 208, 205,
              205, 202, 212, 208, 205, 212, 200, 180, 170, 165,
              162, 160, 165, 175, 182, 182, 180, 183, 178, 172,
              168, 158, 148, 140, 135, 140, 138, 110, 102, 118,
              108, 110, 150, 120, 105, 135, 165, 185, 240, 292]
ACATS_0203 = [268, 256, 254, 250, 252, 250, 247, 252, 250, 248,
              248, 248, 250, 252, 250, 252, 255, 255, 255, 253,
              252, 252, 252, 245, 228, 210, 208, 208, 206, 208,
              206, 208, 208, 208, 204, 208, 200, 182, 178, 168,
              162, 165, 170, 170, 172, 175, 174, 175, 176, 170,
              165, 155, 145, 140, 142, 140, 138, 120, 118, 122,
              122, 125, 138, 118, 120, 135, 160, 185, 225, 282]
ALIAS_0203 = [270, 258, 255, 248, 252, 250, 248, 255, 258, 252,
              250, 250, 252, 255, 252, 255, 258, 260, 258, 255,
              258, 260, 260, 250, 230, 215, 212, 212, 210, 212,
              210, 212, 212, 212, 208, 212, 205, 190, 185, 175,
              172, 170, 175, 178, 180, 180, 180, 180, 182, 178,
              172, 160, 152, 145, 148, 150, 148, 140, 132, 155,
              140, 145, 158, 135, 125, 140, 165, 190, 235, 285]
MODEL_T_0203 = [19.23, 19.25, 19.27, 19.3, 19.33, 19.35, 19.4, 19.45, 19.5, 19.52,
                19.55, 19.58, 19.65, 19.7, 19.72, 19.75, 19.8, 19.85, 19.9, 19.95,
                20.0, 20.03, 20.06, 20.08, 20.1, 20.12, 20.14, 20.16, 20.18, 20.2,
                20.22, 20.24, 20.27, 20.3, 20.33, 20.36, 20.38, 20.42, 20.45, 20.48,
                20.5, 20.53, 20.56, 20.6, 20.63, 20.66, 20.7, 20.73, 20.76, 20.8,
                20.83, 20.86, 20.88, 20.9, 20.93, 20.96, 21.0, 21.02, 21.04, 21.08,
                21.12, 21.15, 21.18, 21.2, 21.25, 21.3, 21.35, 21.38, 21.42, 21.45,
                21.48, 21.52, 21.56, 21.6, 21.65, 21.7, 21.73, 21.76, 21.78, 21.8,
                21.83, 21.86, 21.88, 21.9, 21.93, 21.96, 21.98, 22.0, 22.03, 22.07,
                22.1, 22.13, 22.16, 22.18, 22.19]
MODEL_0203 = [265, 250, 240, 238, 252, 238, 240, 238, 238, 248,
              255, 248, 248, 248, 252, 248, 245, 246, 245, 244,
              244, 246, 250, 248, 252, 245, 255, 244, 262, 244,
              258, 245, 244, 232, 220, 205, 200, 200, 215, 202,
              218, 205, 220, 205, 222, 202, 215, 200, 210, 208,
              222, 175, 165, 172, 158, 158, 147, 145, 162, 165,
              162, 168, 155, 170, 170, 168, 170, 155, 168, 160,
              150, 140, 135, 138, 135, 132, 122, 130, 105, 100,
              112, 102, 110, 102, 112, 102, 102, 120, 130, 160,
              172, 210, 230, 250, 270]
TICKS_0203 = [19.5, 20, 20.5, 21, 21.5, 22]

# 2000/02/26
T_0226 = [7.81, 7.84, 7.87, 7.9, 7.93, 7.96, 8.0, 8.03, 8.07, 8.1,
          8.13, 8.17, 8.2, 8.23, 8.26, 8.3, 8.35, 8.4, 8.45, 8.5,
          8.55, 8.6, 8.7, 8.8, 8.9, 9.0, 9.1, 9.2, 9.3, 9.4,
          9.5, 9.6, 9.7, 9.8, 9.9, 10.0, 10.1, 10.2, 10.3, 10.4,
          10.5, 10.55, 10.6, 10.7, 10.8, 10.9, 11.0, 11.1, 11.2, 11.3,
          11.4, 11.5, 11.6, 11.7, 11.8, 11.9, 12.0, 12.05, 12.1, 12.15,
          12.2, 12.25, 12.3, 12.35, 12.4, 12.45, 12.5, 12.55, 12.6, 12.7,
          12.8, 12.9, 13.0, 13.1, 13.2, 13.3, 13.4, 13.5, 13.6, 13.7,
          13.8, 13.9, 14.0, 14.05, 14.1, 14.15, 14.2, 14.25, 14.3, 14.35,
          14.4, 14.45, 14.5]
ARGUS_0226 = [255, 252, 240, 225, 218, 205, 192, 188, 175, 185,
              190, 198, 220, 205, 195, 178, 160, 148, 140, 138,
              140, 135, 137, 148, 145, 145, 150, 147, 143, 140,
              142, 148, 150, 148, 150, 152, 155, 153, 155, 158,
              160, 158, 155, 152, 150, 150, 145, 140, 140, 140,
              140, 140, 140, 138, 138, 136, 138, 162, 205, 245,
              270, 268, 240, 205, 182, 162, 152, 145, 138, 135,
              133, 133, 132, 130, 128, 122, 112, 105, 100, 96,
              90, 88, 86, 84, 82, 86, 85, 115, 150, 185,
              220, 248, 262]
ACATS_0226 = [262, 254, 242, 232, 220, 210, 198, 188, 178, 186,
              192, 208, 225, 212, 195, 178, 162, 152, 148, 142,
              140, 136, 138, 142, 140, 140, 143, 140, 138, 136,
              138, 142, 142, 141, 143, 146, 148, 146, 148, 150,
              152, 152, 148, 146, 142, 142, 138, 135, 135, 134,
              136, 136, 134, 133, 132, 131, 133, 158, 200, 242,
              265, 268, 238, 200, 178, 158, 146, 138, 133, 130,
              128, 128, 126, 124, 122, 118, 108, 104, 98, 95,
              92, 90, 88, 90, 84, 82, 84, 115, 150, 185,
              215, 242, 258]
ALIAS_0226 = [258, 255, 245, 235, 222, 212, 200, 190, 182, 190,
              195, 210, 222, 210, 195, 180, 165, 155, 150, 145,
              145, 140, 142, 145, 142, 142, 145, 142, 140, 138,
              140, 145, 145, 143, 145, 148, 150, 148, 150, 153,
              155, 155, 150, 148, 145, 145, 140, 137, 137, 136,
              138, 138, 136, 135, 134, 133, 135, 160, 200, 240,
              262, 265, 235, 200, 180, 160, 148, 140, 135, 132,
              130, 130, 128, 126, 125, 120, 115, 110, 105, 103,
              98, 95, 92, 96, 88, 85, 88, 118, 150, 185,
              215, 240, 255]
MODEL_T_0226 = [7.8, 7.83, 7.86, 7.9, 7.93, 7.97, 8.0, 8.03, 8.05, 8.08,
                8.1, 8.13, 8.16, 8.18, 8.2, 8.22, 8.25, 8.28, 8.3, 8.33,
                8.36, 8.4, 8.43, 8.46, 8.5, 8.55, 8.6, 8.65, 8.75, 8.8,
                8.83, 8.86, 8.88, 8.92, 8.95, 9.0, 9.05, 9.08, 9.1, 9.15,
                9.2, 9.25, 9.3, 9.35, 9.4, 9.43, 9.45, 9.5, 9.55, 9.6,
                9.7, 9.75, 9.8, 9.85, 9.9, 9.95, 10.0, 10.1, 10.2, 10.25,
                10.3, 10.35, 10.4, 10.45, 10.5, 10.55, 10.58, 10.6, 10.65, 10.7,
                10.8, 10.9, 11.0, 11.1, 11.2, 11.3, 11.4, 11.45, 11.5, 11.55,
                11.6, 11.65, 11.7, 11.75, 11.8, 11.85, 11.9, 11.95, 12.0, 12.03,
                12.06, 12.1, 12.15, 12.2, 12.23, 12.28, 12.32, 12.37, 12.4, 12.43,
                12.47, 12.5, 12.55, 12.6, 12.65, 12.7, 12.8, 12.9, 13.0, 13.05,
                13.1, 13.15, 13.2, 13.25, 13.3, 13.33, 13.35, 13.4, 13.45, 13.5,
                13.55, 13.6, 13.65, 13.7, 13.75, 13.8, 13.85, 13.9, 13.95, 14.0,
                14.05, 14.1, 14.15, 14.2, 14.25, 14.3, 14.35, 14.4, 14.45, 14.51]
MODEL_0226 = [255, 265, 250, 240, 220, 185, 175, 178, 165, 160,
              170, 155, 130, 165, 175, 140, 150, 135, 160, 125,
              140, 158, 130, 148, 150, 155, 165, 171, 171, 160,
              158, 168, 145, 130, 128, 128, 145, 145, 125, 125,
              125, 120, 130, 122, 125, 108, 130, 118, 128, 126,
              126, 130, 128, 130, 138, 128, 136, 135, 136, 138,
              136, 142, 138, 145, 140, 150, 155, 142, 138, 135,
              130, 128, 130, 128, 127, 125, 125, 122, 118, 110,
              105, 102, 105, 115, 100, 115, 115, 120, 118, 140,
              160, 190, 230, 262, 268, 245, 212, 195, 175, 165,
              150, 140, 130, 122, 122, 128, 128, 126, 125, 125,
              128, 125, 130, 128, 135, 142, 132, 125, 115, 120,
              110, 118, 115, 115, 115, 112, 112, 90, 90, 90,
              88, 78, 80, 80, 100, 150, 190, 222, 245, 262]
TICKS_0226 = [8, 9, 10, 11, 12, 13, 14]

# 2000/03/05
T_0305 = [9.3, 9.33, 9.36, 9.4, 9.45, 9.5, 9.55, 9.6, 9.65, 9.7,
          9.75, 9.8, 9.85, 9.9, 9.95, 10.0, 10.05, 10.1, 10.15, 10.2,
          10.25, 10.3, 10.35, 10.4, 10.45, 10.5, 10.55, 10.6, 10.7, 10.8,
          10.85, 10.9, 10.95, 11.0, 11.05, 11.1, 11.15, 11.2, 11.25, 11.3,
          11.35, 11.4, 11.45, 11.5, 11.55, 11.6, 11.65, 11.7, 11.75, 11.8,
          11.85, 11.9, 11.95, 12.0, 12.1, 12.2, 12.3, 12.4, 12.5, 12.6,
          12.7, 12.75, 12.8, 12.85, 12.9, 12.95, 13.0, 13.1, 13.2, 13.3,
          13.35, 13.4, 13.45, 13.5, 13.55, 13.6, 13.65, 13.7, 13.75, 13.8,
          13.85, 13.9, 13.95, 14.0, 14.05, 14.1, 14.2, 14.3, 14.35, 14.4,
          14.5, 14.55, 14.6, 14.7, 14.8, 14.9, 15.0, 15.1, 15.2, 15.3,
          15.4, 15.5, 15.6, 15.7, 15.8, 15.9, 16.0, 16.05, 16.1, 16.15,
          16.2, 16.25, 16.3, 16.35, 16.4]
ARGUS_0305 = [262, 250, 235, 222, 205, 192, 178, 165, 168, 170,
              158, 152, 150, 145, 143, 145, 148, 145, 150, 155,
              160, 163, 160, 148, 143, 145, 143, 143, 145, 146,
              148, 142, 165, 200, 230, 260, 268, 262, 230, 210,
              200, 195, 192, 190, 180, 168, 162, 155, 148, 140,
              132, 130, 130, 138, 137, 136, 132, 128, 122, 118,
              115, 112, 115, 118, 112, 108, 108, 105, 103, 98,
              95, 103, 108, 102, 95, 92, 85, 86, 80, 75,
              72, 75, 78, 76, 75, 76, 78, 72, 68, 65,
              60, 55, 63, 65, 62, 60, 66, 68, 70, 70,
              70, 72, 74, 73, 72, 68, 62, 60, 72, 115,
              155, 190, 230, 250, 262]
ACATS_0305 = [265, 252, 238, 224, 208, 194, 179, 167, 170, 175,
              159, 154, 151, 147, 144, 147, 149, 147, 151, 157,
              163, 166, 161, 149, 144, 147, 144, 144, 147, 147,
              149, 141, 162, 198, 228, 258, 266, 261, 228, 207,
              197, 193, 191, 187, 175, 165, 160, 154, 147, 139,
              134, 131, 131, 148, 136, 135, 131, 126, 121, 116,
              113, 110, 113, 118, 111, 106, 106, 104, 101, 96,
              93, 101, 106, 100, 92, 90, 82, 84, 77, 72,
              70, 73, 76, 73, 72, 74, 76, 70, 66, 63,
              57, 53, 61, 63, 61, 59, 65, 67, 68, 69,
              69, 71, 73, 72, 71, 67, 64, 62, 71, 112,
              152, 188, 228, 248, 255]
ALIAS_0305 = [268, 255, 240, 225, 210, 195, 180, 168, 172, 178,
              160, 155, 152, 148, 145, 148, 150, 148, 152, 158,
              165, 168, 162, 150, 145, 148, 145, 145, 148, 148,
              150, 140, 160, 195, 225, 255, 265, 260, 225, 205,
              195, 192, 190, 185, 170, 162, 158, 152, 145, 138,
              135, 132, 132, 135, 135, 134, 130, 125, 120, 115,
              112, 108, 112, 118, 110, 105, 105, 103, 100, 95,
              92, 100, 104, 98, 90, 88, 80, 82, 75, 70,
              68, 72, 75, 72, 70, 72, 75, 68, 65, 62,
              55, 52, 60, 62, 60, 58, 64, 66, 67, 68,
              68, 70, 72, 72, 70, 66, 65, 62, 70, 110,
              150, 185, 225, 245, 250]
MODEL_T_0305 = [9.3, 9.35, 9.4, 9.42, 9.45, 9.47, 9.5, 9.53, 9.55, 9.58,
                9.62, 9.65, 9.68, 9.72, 9.75, 9.78, 9.82, 9.85, 9.88, 9.92,
                9.95, 9.98, 10.02, 10.05, 10.1, 10.15, 10.2, 10.25, 10.3, 10.33,
                10.35, 10.4, 10.45, 10.5, 10.55, 10.6, 10.65, 10.7, 10.75, 10.8,
                10.85, 10.9, 10.93, 10.97, 11.0, 11.03, 11.06, 11.1, 11.13, 11.17,
                11.2, 11.23, 11.27, 11.3, 11.35, 11.4, 11.45, 11.5, 11.52, 11.55,
                11.58, 11.6, 11.62, 11.65, 11.7, 11.75, 11.8, 11.85, 11.87, 11.9,
                11.95, 12.0, 12.05, 12.1, 12.15, 12.2, 12.25, 12.3, 12.35, 12.4,
                12.45, 12.5, 12.6, 12.7, 12.75, 12.8, 12.85, 12.9, 12.95, 13.0,
                13.05, 13.1, 13.2, 13.3, 13.35, 13.4, 13.45, 13.5, 13.55, 13.6,
                13.65, 13.7, 13.75, 13.8, 13.85, 13.9, 13.95, 14.0, 14.05, 14.1,
                14.2, 14.3, 14.35, 14.45, 14.55, 14.65, 14.8, 14.85, 14.9, 15.0,
                15.05, 15.1, 15.15, 15.2, 15.3, 15.4, 15.5, 15.6, 15.7, 15.8,
                15.85, 15.9, 16.0, 16.05, 16.1, 16.13, 16.2, 16.25, 16.3, 16.35,
                16.4]
MODEL_0305 = [262, 245, 235, 225, 215, 225, 205, 190, 175, 160,
              160, 165, 155, 148, 140, 135, 131, 135, 130, 131,
              132, 140, 135, 145, 140, 148, 143, 145, 142, 140,
              148, 145, 150, 143, 150, 148, 152, 148, 156, 152,
              160, 158, 148, 160, 185, 205, 225, 235, 250, 282,
              260, 240, 235, 210, 200, 195, 190, 175, 155, 170,
              145, 165, 145, 160, 165, 170, 172, 175, 182, 168,
              160, 158, 150, 150, 145, 140, 138, 136, 140, 136,
              130, 128, 126, 125, 122, 122, 115, 122, 118, 112,
              110, 108, 105, 102, 110, 112, 108, 105, 102, 100,
              105, 100, 98, 90, 95, 85, 88, 80, 78, 78,
              74, 70, 60, 60, 62, 60, 60, 68, 72, 74,
              78, 80, 78, 82, 84, 86, 90, 91, 92, 92,
              88, 84, 82, 82, 78, 110, 150, 190, 220, 230,
              255]
TICKS_0305 = [10, 11, 12, 13, 14, 15, 16]

FLIGHTS = [
    ("2000/01/06", T_0106, ARGUS_0106, ACATS_0106, ALIAS_0106, MODEL_T_0106, MODEL_0106, TICKS_0106, 350),
    ("2000/01/09", T_0109, ARGUS_0109, ACATS_0109, ALIAS_0109, MODEL_T_0109, MODEL_0109, TICKS_0109, 350),
    ("2000/01/11", T_0111, ARGUS_0111, ACATS_0111, ALIAS_0111, MODEL_T_0111, MODEL_0111, TICKS_0111, 350),
    ("2000/01/14", T_0114, ARGUS_0114, ACATS_0114, ALIAS_0114, MODEL_T_0114, MODEL_0114, TICKS_0114, 300),
    ("2000/01/20", T_0120, ARGUS_0120, ACATS_0120, ALIAS_0120, MODEL_T_0120, MODEL_0120, TICKS_0120, 300),
    ("2000/01/23", T_0123, ARGUS_0123, ACATS_0123, ALIAS_0123, MODEL_T_0123, MODEL_0123, TICKS_0123, 300),
    ("2000/01/27", T_0127, ARGUS_0127, ACATS_0127, ALIAS_0127, MODEL_T_0127, MODEL_0127, TICKS_0127, 300),
    ("2000/01/31", T_0131, ARGUS_0131, ACATS_0131, ALIAS_0131, MODEL_T_0131, MODEL_0131, TICKS_0131, 300),
    ("2000/02/02", T_0202, ARGUS_0202, ACATS_0202, ALIAS_0202, MODEL_T_0202, MODEL_0202, TICKS_0202, 300),
    ("2000/02/03", T_0203, ARGUS_0203, ACATS_0203, ALIAS_0203, MODEL_T_0203, MODEL_0203, TICKS_0203, 300),
    ("2000/02/26", T_0226, ARGUS_0226, ACATS_0226, ALIAS_0226, MODEL_T_0226, MODEL_0226, TICKS_0226, 300),
    ("2000/03/05", T_0305, ARGUS_0305, ACATS_0305, ALIAS_0305, MODEL_T_0305, MODEL_0305, TICKS_0305, 300),
]

# ---------------------------------------------------------------------------
# Layout (pixels on a 1385 x 1456 canvas)
# ---------------------------------------------------------------------------
FIG_W, FIG_H = 1385, 1456
COL_LEFT = [48, 507, 967]
ROW_TOP = [28, 390, 751, 1112]
AX_W, AX_H = 412, 325
FONT_SIZE = 8.5


def hhmm(x, _pos):
    h = x % 24
    hh = int(h + 1e-6)
    mm = int(round((h - hh) * 60))
    return f"{hh:02d}:{mm:02d}"


def main():
    plt.rcParams["font.family"] = ["Liberation Sans", "DejaVu Sans"]
    plt.rcParams["font.size"] = FONT_SIZE

    fig = plt.figure(figsize=(FIG_W / 100, FIG_H / 100), dpi=100)

    for i, (date, t, argus, acats, alias, mt, model, ticks, ymax) in enumerate(FLIGHTS):
        r, c = divmod(i, 3)
        ax = fig.add_axes([COL_LEFT[c] / FIG_W, 1 - (ROW_TOP[r] + AX_H) / FIG_H,
                           AX_W / FIG_W, AX_H / FIG_H])

        style = dict(marker="o", ms=5, mew=0, lw=1.3)
        ax.plot(t[:len(argus)], argus, color=(1, 0, 0), label="Argus", **style)
        ax.plot(t, acats, color=(0, 0, 1), label="ACATS", **style)
        ax.plot(t, alias, color=(0, 1, 0), label="ALIAS", **style)
        ax.plot(mt, model, color="k", lw=1.5, drawstyle="steps-post")

        ax.set_xlim(min(t[0], mt[0]), max(t[-1], mt[-1]))
        ax.set_ylim(50, ymax)
        ax.set_yticks(range(50, ymax + 1, 50))
        ax.set_xticks(ticks)
        ax.xaxis.set_major_formatter(FuncFormatter(hhmm))
        ax.tick_params(direction="in", top=True, right=True, length=4,
                       width=0.8, pad=3, labelsize=FONT_SIZE)
        for sp in ax.spines.values():
            sp.set_linewidth(1.0)

        ax.set_title(date, fontsize=FONT_SIZE, pad=7)
        ax.set_ylabel("N2O [ppb]")

        leg = ax.legend(loc="upper right", fancybox=False, edgecolor="k",
                        framealpha=1, borderaxespad=0.3, handlelength=2.3,
                        labelspacing=0.15, borderpad=0.3, handletextpad=0.3,
                        numpoints=1, fontsize=FONT_SIZE)
        leg.get_frame().set_linewidth(1.0)

    fig.savefig("out.png", dpi=100)
    plt.close(fig)


if __name__ == "__main__":
    main()
